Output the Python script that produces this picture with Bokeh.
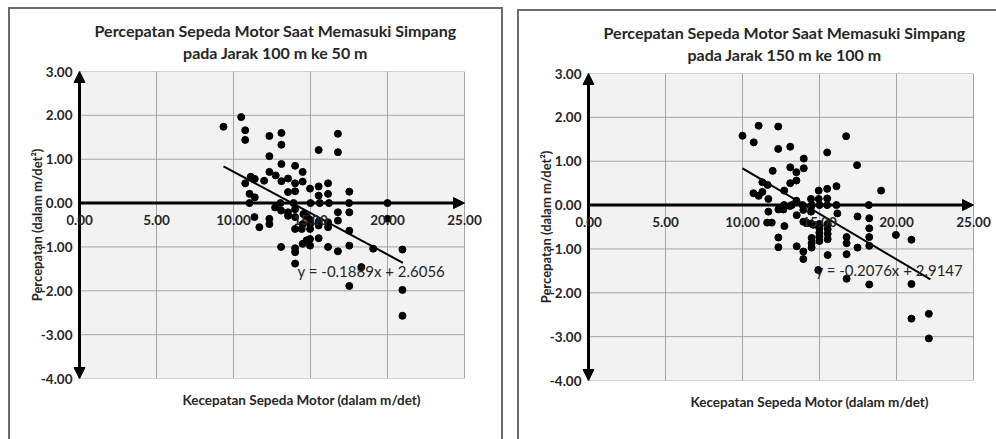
from bokeh.plotting import figure
from bokeh.layouts import row, column
from bokeh.models import (Range1d, FixedTicker, PrintfTickFormatter, Arrow, NormalHead,
                          Label, Title, ColumnDataSource, Div, Spacer)
from bokeh.embed import file_html
from bokeh.resources import INLINE

# ---------------- data ----------------
title_1 = ["Percepatan Sepeda Motor Saat Memasuki Simpang", "pada Jarak 100 m ke 50 m"]
title_2 = ["Percepatan Sepeda Motor Saat Memasuki Simpang", "pada Jarak 150 m ke 100 m"]
x_title = "Kecepatan Sepeda Motor (dalam m/det)"
y_title = "Percepatan (dalam m/det\u00b2)"

x_ticks = [0, 5, 10, 15, 20, 25]
x_tick_labels = ["0.00", "5.00", "10.00", "15.00", "20.00", "25.00"]
y_ticks = [-4, -3, -2, -1, 0, 1, 2, 3]

left_x = [9.35, 10.5, 10.76, 10.76, 12.33, 13.11, 13.11, 12.33, 16.78, 16.78,
          15.53, 13.11, 14.0, 12.33, 12.74, 14.49, 11.12, 11.38, 11.99, 13.11,
          13.54, 14.0, 14.49, 10.76, 14.97, 15.53, 16.14, 13.54, 14.0, 15.53,
          16.14, 17.52, 11.04, 11.38,
          11.04, 13.05, 13.9, 15.0, 15.6, 16.2, 17.5, 20.0,
          12.7, 13.09, 13.54, 13.54, 14.0, 14.54, 14.75, 14.97, 14.97, 14.97,
          14.43, 14.0, 14.0, 14.49, 15.53, 15.53, 16.14, 16.14, 16.78, 16.78,
          17.52, 17.52, 11.36, 11.68, 12.33, 12.33, 13.09, 14.0, 14.0, 14.0,
          14.49, 14.75, 14.97, 14.97, 15.53, 16.14, 16.78, 17.52, 19.07, 20.0,
          20.97, 20.97, 20.97, 17.52, 18.3]
left_y = [1.74, 1.96, 1.66, 1.44, 1.53, 1.60, 1.33, 1.07, 1.58, 1.16,
          1.21, 0.89, 0.85, 0.71, 0.63, 0.71, 0.60, 0.55, 0.51, 0.50,
          0.56, 0.45, 0.49, 0.45, 0.33, 0.38, 0.45, 0.25, 0.27, 0.17,
          0.21, 0.26, 0.21, 0.13,
          0.0, 0.0, 0.0, 0.0, 0.0, 0.0, 0.0, 0.0,
          -0.10, -0.17, -0.21, -0.29, -0.14, -0.25, -0.30, -0.38, -0.48, -0.59,
          -0.59, -0.59, -0.32, -0.48, -0.42, -0.51, -0.44, -0.55, -0.21, -0.40,
          -0.21, -0.63, -0.32, -0.55, -0.36, -0.48, -1.0, -1.03, -1.12, -1.38,
          -0.93, -0.85, -0.97, -0.82, -0.80, -1.0, -1.10, -0.97, -1.04, -0.36,
          -1.06, -1.98, -2.57, -1.89, -1.46]

right_x = [10.0, 11.05, 12.32, 10.73, 12.32, 13.10, 16.73, 15.5, 13.98, 17.44,
           11.96, 13.10, 13.5, 13.98, 13.10, 13.5, 11.29, 11.63, 12.71, 10.71,
           11.29, 11.05, 11.68, 14.95, 15.5, 16.1, 19.0, 14.45, 14.95, 15.5, 13.5,
           12.7, 13.2, 13.9, 14.5, 15.0, 15.5, 16.1, 18.2,
           11.68, 12.33, 12.66, 13.09, 13.52, 13.95, 14.45, 14.45, 16.16, 18.23,
           17.47, 11.6, 11.9, 12.72, 13.95, 14.17, 14.45, 14.6, 14.99, 14.99,
           14.99, 14.99, 14.99, 15.53, 15.53, 15.53, 15.53, 14.49, 14.49, 14.49,
           13.95, 13.95, 13.52, 12.33, 12.33, 16.76, 16.76, 16.76, 17.47, 18.23,
           18.23, 18.23, 15.53, 16.76, 18.23, 19.96, 20.97, 20.97, 20.97, 22.1,
           22.1, 14.92]
right_y = [1.58, 1.81, 1.79, 1.43, 1.28, 1.33, 1.57, 1.20, 1.06, 0.91,
           0.78, 0.86, 0.75, 0.84, 0.50, 0.56, 0.52, 0.46, 0.33, 0.27,
           0.30, 0.21, 0.14, 0.33, 0.37, 0.43, 0.33, 0.14, 0.14, 0.15, 0.10,
           0.0, 0.0, 0.0, 0.0, 0.0, 0.0, 0.0, 0.0,
           -0.15, -0.10, -0.10, -0.02, -0.23, -0.11, -0.04, -0.15, -0.19, -0.30,
           -0.26, -0.40, -0.40, -0.48, -0.38, -0.40, -0.42, -0.45, -0.43, -0.53,
           -0.63, -0.72, -0.82, -0.43, -0.55, -0.66, -0.78, -0.75, -0.87, -0.97,
           -1.06, -1.23, -0.94, -0.74, -0.96, -0.73, -0.87, -1.12, -0.97, -0.53,
           -0.73, -0.93, -1.14, -1.68, -1.81, -0.68, -0.79, -1.80, -2.59, -2.48,
           -3.04, -1.48]

# trendlines (Excel linear fit shown on the chart)
left_slope, left_intercept = -0.1889, 2.6056
right_slope, right_intercept = -0.2076, 2.9147
left_trend_x = [9.35, 21.0]
right_trend_x = [10.0, 22.2]
left_eq = "y = -0.1889x + 2.6056"
right_eq = "y = -0.2076x + 2.9147"
left_eq_pos = [14.16, -1.54]
right_eq_pos = [14.74, -1.47]

X_RANGE = (0, 25)
Y_RANGE = (-4, 3)

# ---------------- style / layout ----------------
FONT = "Lato"
TXT = "#262626"
FRAME = "#6b6b6b"
GRID = "#a6a6a6"
PX_PER_X = 385 / 25.0          # plot-area scale in pixels per x unit
PAD_L_PX, PAD_R_PX = 13, 20     # room so labels/arrow heads at the edges are not clipped
FRAME_W = 385 + PAD_L_PX + PAD_R_PX


def head():
    return NormalHead(size=11, fill_color="black", line_color="black")


def make_chart(xs, ys, slope, intercept, trend_x, eq, eq_pos, titles, width, height,
               mb_left, mb_right, mb_top, mb_bottom, xtitle_offset):
    x0 = X_RANGE[0] - PAD_L_PX / PX_PER_X
    x1 = X_RANGE[1] + PAD_R_PX / PX_PER_X
    p = figure(width=width, height=height, output_backend="svg", toolbar_location=None,
               x_range=Range1d(x0, x1), y_range=Range1d(*Y_RANGE),
               min_border_left=mb_left, min_border_right=mb_right,
               min_border_top=mb_top, min_border_bottom=mb_bottom,
               background_fill_color="white", border_fill_color="white")
    p.outline_line_color = None
    p.xgrid.visible = False
    p.ygrid.visible = False

    # two centred title lines
    p.title.text = titles[0]
    p.title.align = "center"
    p.title.text_font = FONT
    p.title.text_font_size = "16px"
    p.title.text_font_style = "bold"
    p.title.text_color = TXT
    p.title.standoff = -16
    t2 = Title(text=titles[1], align="center", text_font=FONT, text_font_size="16px",
               text_font_style="bold", text_color=TXT, standoff=19)
    p.add_layout(t2, "above")

    p.xaxis[0].visible = False

    ya = p.yaxis[0]
    ya.ticker = FixedTicker(ticks=y_ticks)
    ya.formatter = PrintfTickFormatter(format="%.2f")
    ya.axis_line_color = None
    ya.major_tick_line_color = None
    ya.minor_tick_line_color = None
    ya.major_tick_out = 0
    ya.major_tick_in = 0
    ya.minor_tick_out = 0
    ya.minor_tick_in = 0
    ya.major_label_standoff = 7 - PAD_L_PX
    ya.major_label_text_font = FONT
    ya.major_label_text_font_style = "bold"
    ya.major_label_text_font_size = "13.5px"
    ya.major_label_text_color = TXT
    ya.axis_label = y_title
    ya.axis_label_standoff = -7
    ya.axis_label_text_font = FONT
    ya.axis_label_text_font_style = "bold"
    ya.axis_label_text_font_size = "13px"
    ya.axis_label_text_color = TXT

    xt = Title(text=x_title, align="left", text_font=FONT, text_font_size="13.5px",
               text_font_style="bold", text_color=TXT, offset=xtitle_offset + PAD_L_PX,
               standoff=22)
    p.add_layout(xt, "below")

    # plot area: grey fill and grid lines
    p.quad(left=[X_RANGE[0]], right=[X_RANGE[1]], bottom=[Y_RANGE[0]], top=[Y_RANGE[1]],
           fill_color="#f2f2f2", line_color=None)
    p.segment(x0=x_ticks, y0=[Y_RANGE[0]] * len(x_ticks), x1=x_ticks,
              y1=[Y_RANGE[1]] * len(x_ticks), line_color=GRID, line_width=1)
    p.segment(x0=[X_RANGE[0]] * len(y_ticks), y0=y_ticks, x1=[X_RANGE[1]] * len(y_ticks),
              y1=y_ticks, line_color=GRID, line_width=1)

    # thick black axis arrows
    p.add_layout(Arrow(end=head(), x_start=X_RANGE[0], y_start=0, x_end=X_RANGE[1], y_end=0,
                       line_width=3, line_color="black"))
    p.add_layout(Arrow(start=head(), end=head(),
                       x_start=0, y_start=Y_RANGE[0], x_end=0, y_end=Y_RANGE[1],
                       line_width=3, line_color="black"))

    # x tick labels sitting under the zero line
    for xv, txt in zip(x_ticks, x_tick_labels):
        p.add_layout(Label(x=xv, y=0, text=txt, y_offset=-17, text_align="center",
                           text_baseline="middle", text_font=FONT, text_font_style="bold",
                           text_font_size="13.5px", text_color=TXT))

    # data points
    src = ColumnDataSource(dict(x=xs, y=ys))
    p.scatter("x", "y", source=src, size=7, color="black")

    # trendline
    ty = [slope * v + intercept for v in trend_x]
    p.line(trend_x, ty, line_width=2, color="black")

    p.add_layout(Label(x=eq_pos[0], y=eq_pos[1], text=eq, text_font=FONT, text_font_size="15px",
                       text_color=TXT, text_baseline="middle", text_align="left"))
    return p


def bar(w, h):
    return Div(text="", width=w, height=h, margin=0, styles={"background-color": FRAME})


p1 = make_chart(left_x, left_y, left_slope, left_intercept, left_trend_x, left_eq, left_eq_pos,
                title_1, 491, 430, 56, 491 - 56 - FRAME_W, 62, 61, 103)
p2 = make_chart(right_x, right_y, right_slope, right_intercept, right_trend_x, right_eq, right_eq_pos,
                title_2, 477, 428, 56, 477 - 56 - FRAME_W, 62, 59, 102)

left_block = column(Spacer(width=495, height=7, margin=0), bar(495, 2),
                    row(bar(2, 430), p1, bar(2, 430), spacing=0), spacing=0)
right_block = column(Spacer(width=479, height=9, margin=0), bar(479, 2),
                     row(bar(2, 428), p2, spacing=0), spacing=0)
layout = row(Spacer(width=8, height=439, margin=0), left_block,
             Spacer(width=14, height=439, margin=0), right_block, spacing=0)

open("out.html", "w").write(file_html(layout, INLINE))
